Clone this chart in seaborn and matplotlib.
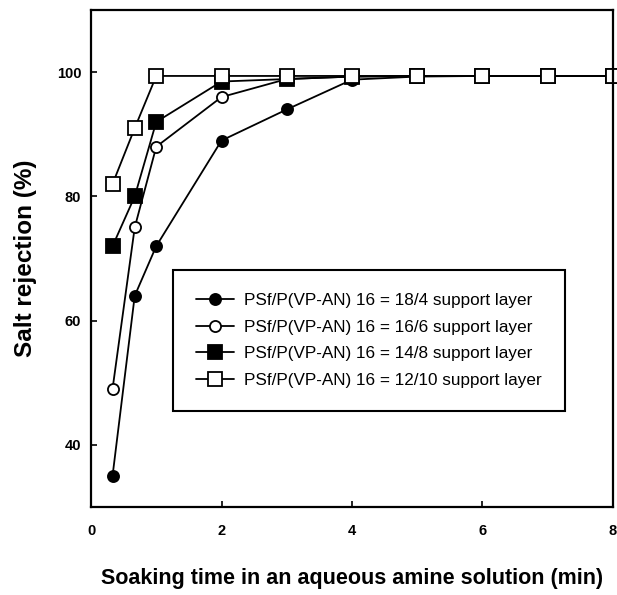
import matplotlib
matplotlib.use('Agg')
import numpy as np
import pandas as pd
import matplotlib.pyplot as plt
import seaborn as sns

# datos
tiempo = [0.33, 0.67, 1, 2, 3, 4, 5, 6, 7, 8]
rechazo_18_4 = [35, 64, 72, 89, 94, 98.8, 99.3, 99.4, 99.4, 99.4]
rechazo_16_6 = [49, 75, 88, 96, 98.9, 99.3, 99.4, 99.4, 99.4, 99.4]
rechazo_14_8 = [72, 80, 92, 98.5, 98.9, 99.3, 99.4, 99.4, 99.4, 99.4]
rechazo_12_10 = [82, 91, 99.4, 99.4, 99.4, 99.4, 99.4, 99.4, 99.4, 99.4]
etiquetas = ["PSf/P(VP-AN) 16 = 18/4 support layer",
             "PSf/P(VP-AN) 16 = 16/6 support layer",
             "PSf/P(VP-AN) 16 = 14/8 support layer",
             "PSf/P(VP-AN) 16 = 12/10 support layer"]

series = [rechazo_18_4, rechazo_16_6, rechazo_14_8, rechazo_12_10]
marcadores = ['o', 'o', 's', 's']
rellenos = ['black', 'white', 'black', 'white']
tamanos = [8, 8, 9.5, 9.5]

sns.set_theme(style="ticks")
plt.rcParams['font.family'] = ['Liberation Sans', 'DejaVu Sans']
plt.rcParams['text.color'] = 'black'
plt.rcParams['axes.labelcolor'] = 'black'

fig = plt.figure(figsize=(6.17, 5.95), dpi=100)
ax = fig.add_axes([0.1475, 0.148, 0.846, 0.835])

for valores, etiqueta, mk, fc, ms in zip(series, etiquetas, marcadores, rellenos, tamanos):
    sns.lineplot(x=tiempo, y=valores, ax=ax, color='black', lw=1.3,
                 marker=mk, markersize=ms, markerfacecolor=fc,
                 markeredgecolor='black', markeredgewidth=1.3,
                 label=etiqueta, clip_on=False)

ax.set_xlim(0, 8)
ax.set_ylim(30, 110)
ax.set_xticks([0, 2, 4, 6, 8])
ax.set_yticks([40, 60, 80, 100])
ax.tick_params(direction='in', length=4, width=1.2, labelsize=10.5, colors='black')
ax.tick_params(axis='x', pad=12)
ax.tick_params(axis='y', pad=7)
for lab in ax.get_xticklabels() + ax.get_yticklabels():
    lab.set_fontweight('semibold')
for s in ax.spines.values():
    s.set_linewidth(1.6)
    s.set_color('black')

ax.set_xlabel("Soaking time in an aqueous amine solution (min)", fontsize=15.5,
              fontweight='bold', labelpad=22, color='black')
ax.set_ylabel("Salt rejection (%)", fontsize=17.5, fontweight='bold', labelpad=14,
              color='black')

leg = ax.legend(loc='upper left', bbox_to_anchor=(0.157, 0.477), fontsize=12.3,
                frameon=True, fancybox=False, edgecolor='black', framealpha=1,
                borderpad=1.35, labelspacing=0.68, handlelength=2.2, handletextpad=0.6,
                borderaxespad=0)
leg.get_frame().set_linewidth(1.5)
for t in leg.get_texts():
    t.set_color('black')

fig.savefig("out.png", dpi=100)
